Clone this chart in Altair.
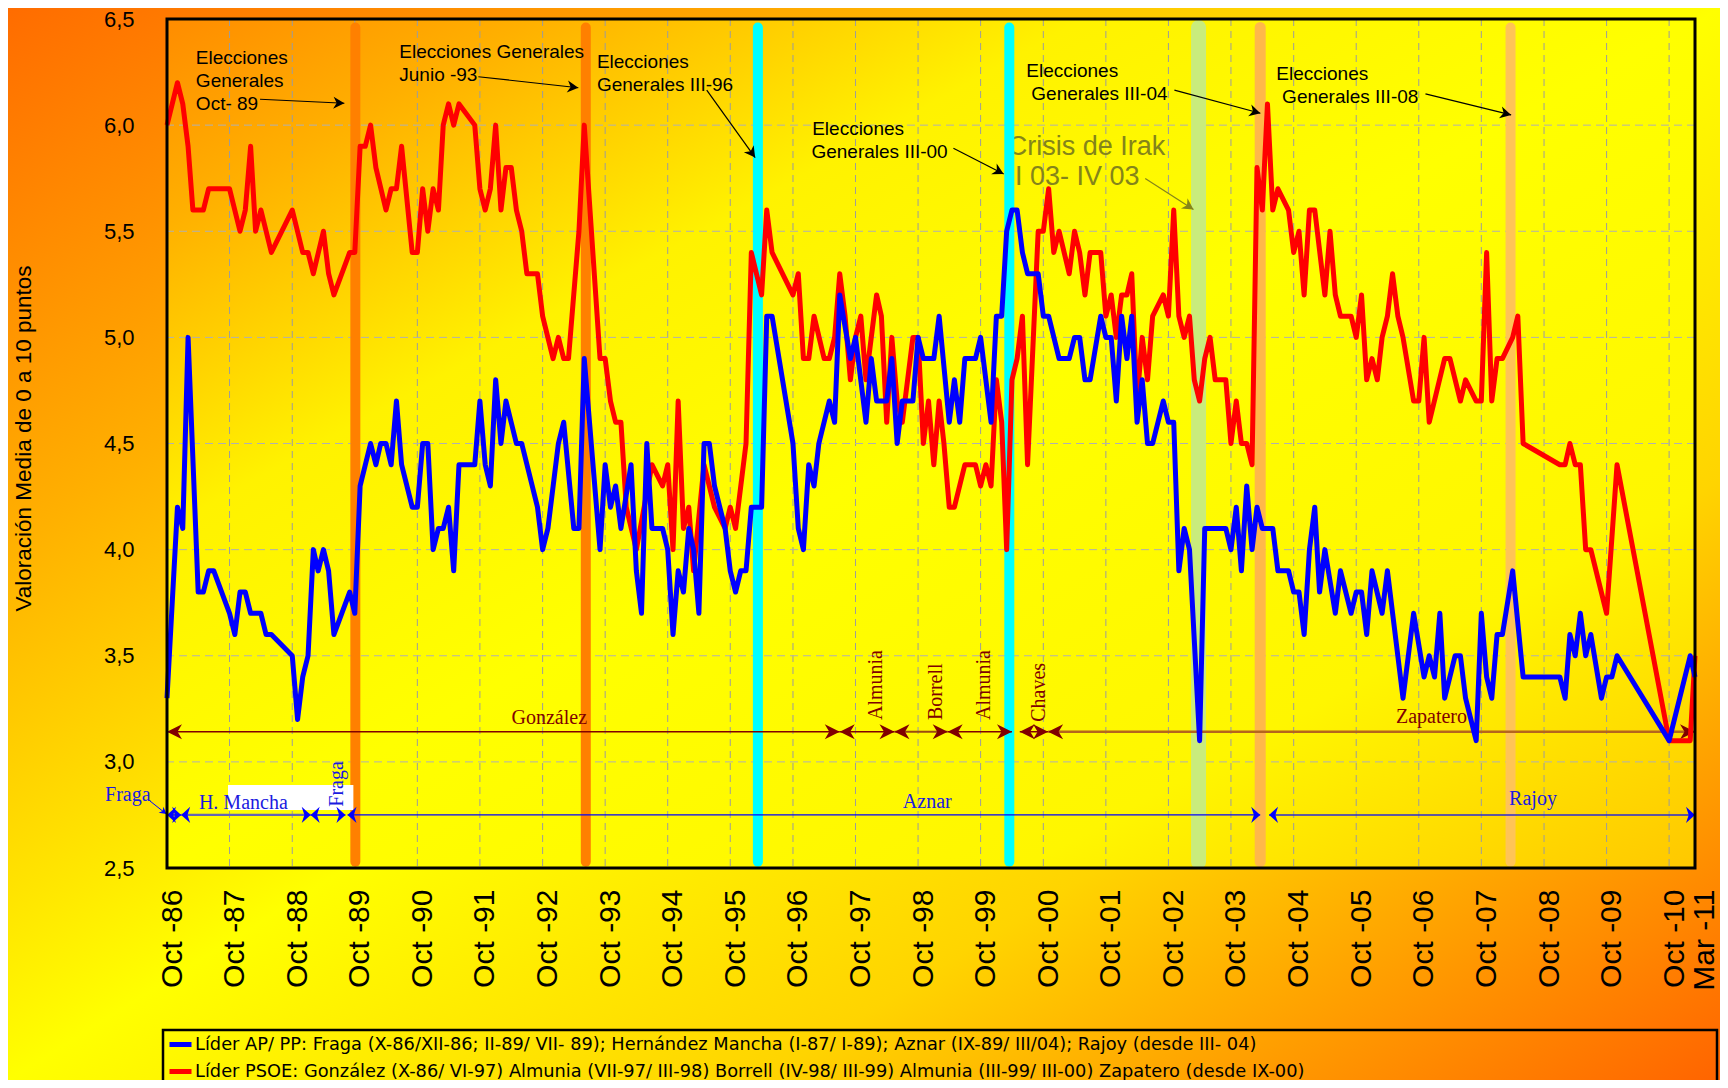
import math
import altair as alt
import pandas as pd

# ---------------------------------------------------------------- data
START = pd.Timestamp(1986, 10, 1)


def mdate(m):
    """month offset from Oct-86 (fractional allowed) -> timestamp"""
    whole = int(math.floor(m))
    frac = m - whole
    d0 = START + pd.DateOffset(months=whole)
    if frac:
        d1 = START + pd.DateOffset(months=whole + 1)
        d0 = d0 + (d1 - d0) * frac
    return d0


PP_LABEL = ("Líder AP/ PP: Fraga (X-86/XII-86; II-89/ VII- 89); Hernández Mancha (I-87/ I-89); "
            "Aznar (IX-89/ III/04); Rajoy (desde III- 04)")
PSOE_LABEL = ("Líder PSOE: González (X-86/ VI-97) Almunia (VII-97/ III-98) Borrell (IV-98/ III-99) "
              "Almunia (III-99/ III-00) Zapatero (desde IX-00)")

# months after Oct-86 and ratings, Líder AP/PP
pp_months = [0, 2, 3, 4, 6, 7, 8, 9, 12, 13, 14, 15, 16, 18, 19, 20, 24, 25, 26, 27, 28, 29, 30, 31, 32,
             35, 36, 37, 39, 40, 41, 42, 43, 44, 45, 47, 48, 49, 50, 51, 52, 53, 54, 55, 56, 59, 60, 61,
             62, 63, 64, 65, 67, 68, 71, 72, 73, 75, 76, 78, 79, 80, 83, 84, 85, 86, 87, 89, 90, 91, 92,
             93, 95, 96, 97, 98, 99, 100, 101, 102, 103, 104, 105, 107, 108, 109, 110, 111, 112, 114,
             115, 116, 120, 121, 122, 123, 124, 125, 127, 128, 129, 131, 132, 134, 135, 136, 138, 139,
             140, 141, 143, 144, 145, 147, 148, 150, 151, 152, 153, 155, 156, 158, 159, 160, 161, 162,
             163, 164, 165, 167, 168, 169, 171, 173, 174, 175, 176, 177, 179, 180, 181, 182, 183, 184,
             185, 186, 187, 188, 189, 191, 192, 193, 194, 195, 196, 198, 199, 203, 204, 205, 206, 207,
             208, 209, 210, 212, 213, 215, 216, 217, 218, 219, 220, 221, 222, 224, 225, 227, 228, 229,
             230, 231, 233, 234, 237, 239, 241, 242, 243, 244, 245, 247, 248, 249, 251, 252, 253, 254,
             255, 256, 258, 260, 267, 268, 269, 270, 271, 272, 273, 275, 276, 277, 278, 288, 292, 293]
pp_values = [3.3, 4.2, 4.1, 5.0, 3.8, 3.8, 3.9, 3.9, 3.7, 3.6, 3.8, 3.8, 3.7, 3.7, 3.6, 3.6, 3.5, 3.2,
             3.4, 3.5, 4.0, 3.9, 4.0, 3.9, 3.6, 3.8, 3.7, 4.3, 4.5, 4.4, 4.5, 4.5, 4.4, 4.7, 4.4, 4.2,
             4.2, 4.5, 4.5, 4.0, 4.1, 4.1, 4.2, 3.9, 4.4, 4.4, 4.7, 4.4, 4.3, 4.8, 4.5, 4.7, 4.5, 4.5,
             4.2, 4.0, 4.1, 4.5, 4.6, 4.1, 4.1, 4.9, 4.0, 4.4, 4.2, 4.3, 4.1, 4.4, 3.9, 3.7, 4.5, 4.1,
             4.1, 4.0, 3.6, 3.9, 3.8, 4.1, 4.0, 3.7, 4.5, 4.5, 4.3, 4.1, 3.9, 3.8, 3.9, 3.9, 4.2, 4.2,
             5.1, 5.1, 4.5, 4.1, 4.0, 4.4, 4.3, 4.5, 4.7, 4.6, 5.2, 4.9, 5.0, 4.6, 4.9, 4.7, 4.7, 4.9,
             4.5, 4.7, 4.7, 5.0, 4.9, 4.9, 5.1, 4.6, 4.8, 4.6, 4.9, 4.9, 5.0, 4.6, 5.1, 5.1, 5.5, 5.6,
             5.6, 5.4, 5.3, 5.3, 5.1, 5.1, 4.9, 4.9, 5.0, 5.0, 4.8, 4.8, 5.1, 5.0, 5.0, 4.7, 5.1, 4.9,
             5.1, 4.6, 4.8, 4.5, 4.5, 4.7, 4.6, 4.6, 3.9, 4.1, 4.0, 3.1, 4.1, 4.1, 4.0, 4.2, 3.9, 4.3,
             4.0, 4.2, 4.1, 4.1, 3.9, 3.9, 3.8, 3.8, 3.6, 4.0, 4.2, 3.8, 4.0, 3.7, 3.9, 3.7, 3.8, 3.8,
             3.6, 3.9, 3.7, 3.9, 3.3, 3.7, 3.4, 3.5, 3.4, 3.7, 3.3, 3.5, 3.5, 3.3, 3.1, 3.7, 3.4, 3.3,
             3.6, 3.6, 3.9, 3.4, 3.4, 3.3, 3.6, 3.5, 3.7, 3.5, 3.6, 3.3, 3.4, 3.4, 3.5, 3.1, 3.5, 3.4]

# months after Oct-86 and ratings, Líder PSOE
psoe_months = [0, 2, 3, 4, 5, 7, 8, 12, 14, 15, 16, 17, 18, 20, 24, 26, 27, 28, 30, 31, 32, 35, 36, 37,
               38, 39, 40, 42, 43, 44, 45, 47, 48, 49, 50, 51, 52, 53, 54, 55, 56, 59, 60, 61, 62, 63,
               64, 65, 66, 67, 68, 69, 71, 72, 74, 75, 76, 77, 79, 80, 83, 84, 85, 86, 87, 88, 90, 93,
               95, 96, 97, 98, 99, 100, 101, 103, 105, 107, 108, 109, 111, 112, 114, 115, 116, 120, 121,
               122, 123, 124, 126, 127, 128, 129, 130, 131, 132, 133, 134, 136, 137, 138, 139, 140, 141,
               143, 144, 145, 146, 147, 148, 149, 150, 151, 153, 155, 156, 157, 158, 159, 160, 161, 162,
               163, 164, 165, 167, 168, 169, 170, 171, 173, 174, 175, 176, 177, 179, 180, 181, 182, 183,
               184, 185, 186, 187, 188, 189, 191, 192, 193, 194, 195, 196, 197, 198, 199, 200, 201, 203,
               204, 205, 206, 207, 208, 209, 210, 211, 212, 213, 215, 216, 217, 218, 219, 220, 222, 223,
               224, 225, 227, 228, 229, 230, 231, 232, 233, 234, 235, 236, 237, 239, 240, 241, 242, 245,
               246, 248, 249, 251, 252, 253, 254, 255, 256, 258, 259, 260, 267, 268, 269, 270, 271, 272,
               273, 276, 278, 288, 292, 293]
psoe_values = [6.0, 6.2, 6.1, 5.9, 5.6, 5.6, 5.7, 5.7, 5.5, 5.6, 5.9, 5.5, 5.6, 5.4, 5.6, 5.4, 5.4, 5.3,
               5.5, 5.3, 5.2, 5.4, 5.4, 5.9, 5.9, 6.0, 5.8, 5.6, 5.7, 5.7, 5.9, 5.4, 5.4, 5.7, 5.5, 5.7,
               5.6, 6.0, 6.1, 6.0, 6.1, 6.0, 5.7, 5.6, 5.7, 6.0, 5.6, 5.8, 5.8, 5.6, 5.5, 5.3, 5.3, 5.1,
               4.9, 5.0, 4.9, 4.9, 5.5, 6.0, 4.9, 4.9, 4.7, 4.6, 4.6, 4.2, 4.0, 4.4, 4.3, 4.4, 4.0, 4.7,
               4.1, 4.2, 3.9, 4.4, 4.2, 4.1, 4.2, 4.1, 4.5, 5.4, 5.2, 5.6, 5.4, 5.2, 5.3, 4.9, 4.9, 5.1,
               4.9, 4.9, 5.0, 5.3, 5.1, 4.8, 5.0, 5.1, 4.8, 5.2, 5.1, 4.6, 5.0, 4.7, 4.6, 5.0, 5.0, 4.5,
               4.7, 4.4, 4.7, 4.5, 4.2, 4.2, 4.4, 4.4, 4.3, 4.4, 4.3, 4.8, 4.6, 4.0, 4.8, 4.9, 5.1, 4.4,
               5.5, 5.5, 5.7, 5.4, 5.5, 5.3, 5.5, 5.4, 5.2, 5.4, 5.4, 5.1, 5.2, 5.0, 5.2, 5.2, 5.3, 4.7,
               5.0, 4.8, 5.1, 5.2, 5.1, 5.6, 5.1, 5.0, 5.1, 4.8, 4.7, 4.9, 5.0, 4.8, 4.8, 4.5, 4.7, 4.5,
               4.5, 4.4, 5.8, 5.6, 6.1, 5.6, 5.7, 5.6, 5.4, 5.5, 5.2, 5.6, 5.6, 5.2, 5.5, 5.2, 5.1, 5.1,
               5.0, 5.2, 4.8, 4.9, 4.8, 5.0, 5.1, 5.3, 5.1, 5.0, 4.7, 4.7, 5.0, 4.6, 4.9, 4.9, 4.7, 4.8,
               4.7, 4.7, 5.4, 4.7, 4.9, 4.9, 5.0, 5.1, 4.5, 4.4, 4.4, 4.5, 4.4, 4.4, 4.0, 4.0, 3.7, 4.4,
               3.1, 3.1, 3.5]

# axis ticks
tick_years = list(range(1986, 2011))
ytick_values = [2.5, 3.0, 3.5, 4.0, 4.5, 5.0, 5.5, 6.0, 6.5]
grid_month_offsets = [12 * k for k in range(1, 25)]
grid_values = [3.0, 3.5, 4.0, 4.5, 5.0, 5.5, 6.0]

# election / crisis bands (month offsets)
band_months = [36.1, 80.3, 113.3, 161.5, 197.8, 209.6, 257.6]
band_colors = ["#FF8000", "#FF8000", "#00FFFF", "#00FFFF", "#C9EC7C", "#FFB84A", "#FFC456"]
band_widths = [10, 10, 10, 10, 15, 11, 10]

# annotation texts
ann_text = ["Elecciones", "Generales", "Oct- 89", "Elecciones Generales", "Junio -93",
            "Elecciones", "Generales III-96", "Elecciones", "Generales III-00",
            "Elecciones", "Generales III-04", "Elecciones", "Generales III-08"]
ann_m = [5.56, 5.56, 5.56, 44.55, 44.55, 82.41, 82.41, 123.65, 123.51, 164.75, 165.71, 212.70, 213.79]
ann_v = [6.287, 6.178, 6.071, 6.315, 6.209, 6.268, 6.162, 5.953, 5.844, 6.225, 6.118, 6.213, 6.106]

arrow_m1 = [17.84, 59.70, 103.51, 150.81, 193.13, 241.27]
arrow_v1 = [6.122, 6.228, 6.165, 5.891, 6.165, 6.147]
arrow_m2 = [34.00, 78.88, 112.77, 160.40, 209.63, 257.71]
arrow_v2 = [6.103, 6.176, 5.847, 5.770, 6.056, 6.048]

irak_text = ["Crisis de Irak", "I 03- IV 03"]
irak_m = [161.2, 162.6]
irak_v = [5.859, 5.718]
irak_arrow = (187.57, 5.749, 196.83, 5.603)

# leaders' timelines
PSOE_ROW = 3.142
psoe_seg_start = [0, 129, 139.5, 149.7, 163.5, 168.9]
psoe_seg_end = [129, 139.5, 149.7, 162.0, 168.9, 293]
psoe_seg_color = ["#800000", "#800000", "#9A4A10", "#800000", "#800000", "#B5651D"]
psoe_seg_width = [1.5, 1.5, 2, 1.5, 1.5, 2.5]

PP_ROW = 2.75
pp_seg_start = [0, 2.7, 27.5, 34.6, 211.3]
pp_seg_end = [2.7, 27.5, 34.2, 209.6, 293]
pp_seg_color = ["#0000FF", "#6464B4", "#0000FF", "#0000FF", "#2A2AD0"]
pp_seg_width = [1.5, 2.2, 1.5, 1.3, 1.5]

lbl_h_text = ["González", "Zapatero", "H. Mancha", "Aznar", "Rajoy", "Fraga"]
lbl_h_m = [73.26, 242.42, 6.14, 145.76, 261.89, -11.89]
lbl_h_v = [3.178, 3.183, 2.777, 2.783, 2.797, 2.816]
lbl_h_align = ["center", "center", "left", "center", "center", "left"]
lbl_h_color = ["#800000", "#800000", "#1A1AE0", "#1A1AE0", "#1A1AE0", "#1A1AE0"]

lbl_r_text = ["Almunia", "Borrell", "Almunia", "Chaves", "Fraga"]
lbl_r_m = [137.13, 148.58, 157.71, 168.39, 33.81]
lbl_r_v = [3.197, 3.197, 3.197, 3.189, 2.789]
lbl_r_color = ["#800000", "#800000", "#800000", "#800000", "#1A1AE0"]

white_box = (11.70, 35.72, 2.891, 2.773)
fraga_leader = (-3.26, 2.816, -0.1, 2.754)

# ---------------------------------------------------------------- layout
W, H = 1528, 849
PAD = {"left": 159, "top": 11, "right": 25, "bottom": 212}
PX_M = W / 293.0
PX_V = H / 4.0


def screen_angle(m1, v1, m2, v2):
    dx = (m2 - m1) * PX_M
    dy = -(v2 - v1) * PX_V
    return math.degrees(math.atan2(dy, dx)) % 360


x_scale = alt.Scale(domain=[alt.DateTime(year=1986, month=10, date=1),
                            alt.DateTime(year=2011, month=3, date=1)])
y_scale = alt.Scale(domain=[2.5, 6.5], nice=False, zero=False)

x_axis = alt.Axis(
    values=[alt.DateTime(year=y, month=10, date=1) for y in tick_years] + [alt.DateTime(year=2011, month=3, date=1)],
    labelExpr="timeFormat(datum.value, '%b -%y')",
    labelAngle=270, labelAlign="right", labelBaseline="middle",
    labelFont="Liberation Sans", labelFontSize=30, labelColor="black",
    labelPadding=21, labelOffset={"condition": {"test": "month(datum.value) == 2", "value": 9}, "value": 5},
    labelFlush=False, labelOverlap=False, labelBound=False,
    ticks=False, domain=False, grid=False, title=None, zindex=1)

y_axis = alt.Axis(
    values=ytick_values,
    labelExpr="replace(format(datum.value, '.1f'), '.', ',')",
    labelFont="Liberation Sans", labelFontSize=22, labelColor="black",
    labelPadding=33, labelFlush=False, labelOverlap=False,
    ticks=False, domain=False, grid=False,
    title="Valoración Media de 0 a 10 puntos", titleFont="Liberation Sans", titleFontSize=22.5,
    titleFontWeight="normal", titleColor="black", titleX=-137, titleY=419,
    titleBaseline="alphabetic", titleAlign="center", zindex=1)

X = alt.X("date:T", scale=x_scale, axis=x_axis)
Y = alt.Y("value:Q", scale=y_scale, axis=y_axis)

one = pd.DataFrame({"k": [0]})

outer_grad = alt.LinearGradient(
    gradient="linear", x1=0, y1=0, x2=1, y2=1,
    stops=[alt.GradientStop(offset=0, color="#FF6C00"),
           alt.GradientStop(offset=0.25, color="#FFB000"),
           alt.GradientStop(offset=0.5, color="#FFFF00"),
           alt.GradientStop(offset=0.72, color="#FFD400"),
           alt.GradientStop(offset=1, color="#FF6400")])
plot_grad = alt.LinearGradient(
    gradient="linear", x1=0, y1=0, x2=1, y2=1,
    stops=[alt.GradientStop(offset=0, color="#FF8C00"),
           alt.GradientStop(offset=0.12, color="#FFB000"),
           alt.GradientStop(offset=0.3, color="#FFF200"),
           alt.GradientStop(offset=0.5, color="#FFFF00"),
           alt.GradientStop(offset=0.78, color="#FFF600"),
           alt.GradientStop(offset=1, color="#FFC800")])

outer_bg = alt.Chart(one).mark_rect(fill=outer_grad).encode(
    x=alt.value(-PAD["left"]), x2=alt.value(W + PAD["right"]),
    y=alt.value(-PAD["top"]), y2=alt.value(H + PAD["bottom"]))
plot_bg = alt.Chart(one).mark_rect(fill=plot_grad).encode(
    x=alt.value(0), x2=alt.value(W), y=alt.value(0), y2=alt.value(H))

grid_v = alt.Chart(pd.DataFrame({"date": [mdate(m) for m in grid_month_offsets]})).mark_rule(
    stroke="#9C9C9C", strokeWidth=1, strokeDash=[7, 5]).encode(x=X)
grid_h = alt.Chart(pd.DataFrame({"value": grid_values})).mark_rule(
    stroke="#B0B0B0", strokeWidth=1, strokeDash=[8, 5]).encode(y=Y)

irak_df = pd.DataFrame({"date": [mdate(m) for m in irak_m], "value": irak_v, "t": irak_text})
irak_txt = alt.Chart(irak_df).mark_text(
    align="left", baseline="alphabetic", font="Liberation Sans", fontSize=27, color="#84841A").encode(
    x=X, y=Y, text="t:N")

bands_df = pd.DataFrame({"date": [mdate(m) for m in band_months], "value": 6.46, "value2": 2.53,
                         "col": band_colors, "w": band_widths})
bands = alt.Chart(bands_df).mark_rule(strokeCap="round").encode(
    x=X, y=Y, y2="value2:Q", stroke=alt.Stroke("col:N", scale=None),
    strokeWidth=alt.StrokeWidth("w:Q", scale=None))

wb = pd.DataFrame({"date": [mdate(white_box[0])], "date2": [mdate(white_box[1])],
                   "value": [white_box[2]], "value2": [white_box[3]]})
white = alt.Chart(wb).mark_rect(color="white").encode(x=X, x2="date2:T", y=Y, y2="value2:Q")

# timelines
seg_rows = []
head_rows_r, head_rows_b = [], []
for s, e, c, w in zip(psoe_seg_start, psoe_seg_end, psoe_seg_color, psoe_seg_width):
    seg_rows.append({"date": mdate(s), "date2": mdate(e), "value": PSOE_ROW, "col": c, "w": w})
    head_rows_r.append({"date": mdate(s), "value": PSOE_ROW, "ang": 180})
    head_rows_r.append({"date": mdate(e), "value": PSOE_ROW, "ang": 0})
for s, e, c, w in zip(pp_seg_start, pp_seg_end, pp_seg_color, pp_seg_width):
    seg_rows.append({"date": mdate(s), "date2": mdate(e), "value": PP_ROW, "col": c, "w": w})
    head_rows_b.append({"date": mdate(s), "value": PP_ROW, "ang": 180})
    head_rows_b.append({"date": mdate(e), "value": PP_ROW, "ang": 0})
segs = alt.Chart(pd.DataFrame(seg_rows)).mark_rule().encode(
    x=X, x2="date2:T", y=Y, stroke=alt.Stroke("col:N", scale=None),
    strokeWidth=alt.StrokeWidth("w:Q", scale=None))

RED_HEAD = "M0,0 L-2,-1 L-1.4,0 L-2,1 Z"
BLUE_HEAD = "M0,0 L-2,-1.8 L-1.4,0 L-2,1.8 Z"
ANN_HEAD = "M0,0 L-2,-1.1 L-1.4,0 L-2,1.1 Z"

heads_r = alt.Chart(pd.DataFrame(head_rows_r)).mark_point(
    shape=RED_HEAD, filled=True, size=225, color="#800000", opacity=1, strokeWidth=0).encode(
    x=X, y=Y, angle=alt.Angle("ang:Q", scale=None))
heads_b = alt.Chart(pd.DataFrame(head_rows_b)).mark_point(
    shape=BLUE_HEAD, filled=True, size=81, color="#0000FF", opacity=1, strokeWidth=0).encode(
    x=X, y=Y, angle=alt.Angle("ang:Q", scale=None))

lbl_h_df = pd.DataFrame({"date": [mdate(m) for m in lbl_h_m], "value": lbl_h_v, "t": lbl_h_text,
                         "al": lbl_h_align, "col": lbl_h_color})
lbl_hc = alt.Chart(lbl_h_df[lbl_h_df.al == "center"]).mark_text(
    align="center", baseline="alphabetic", font="Liberation Serif", fontSize=20).encode(
    x=X, y=Y, text="t:N", fill=alt.Fill("col:N", scale=None))
lbl_hl = alt.Chart(lbl_h_df[lbl_h_df.al == "left"]).mark_text(
    align="left", baseline="alphabetic", font="Liberation Serif", fontSize=20).encode(
    x=X, y=Y, text="t:N", fill=alt.Fill("col:N", scale=None))
lbl_r = alt.Chart(pd.DataFrame({"date": [mdate(m) for m in lbl_r_m], "value": lbl_r_v, "t": lbl_r_text,
                                "col": lbl_r_color})).mark_text(
    align="left", baseline="alphabetic", angle=270, font="Liberation Serif", fontSize=20).encode(
    x=X, y=Y, text="t:N", fill=alt.Fill("col:N", scale=None))

fl_df = pd.DataFrame({"date": [mdate(fraga_leader[0])], "date2": [mdate(fraga_leader[2])],
                      "value": [fraga_leader[1]], "value2": [fraga_leader[3]],
                      "ang": [screen_angle(*fraga_leader)]})
fl_line = alt.Chart(fl_df).mark_rule(color="#0000FF", strokeWidth=1).encode(
    x=X, x2="date2:T", y=Y, y2="value2:Q")
fl_head = alt.Chart(fl_df).mark_point(shape=ANN_HEAD, filled=True, size=49, color="#0000FF",
                                      opacity=1, strokeWidth=0).encode(
    x="date2:T", y="value2:Q", angle=alt.Angle("ang:Q", scale=None))

# annotations
ann_df = pd.DataFrame({"date": [mdate(m) for m in ann_m], "value": ann_v, "t": ann_text})
ann_txt = alt.Chart(ann_df).mark_text(
    align="left", baseline="alphabetic", font="Liberation Sans", fontSize=19, color="black").encode(
    x=X, y=Y, text="t:N")
arr_df = pd.DataFrame({"date": [mdate(m) for m in arrow_m1], "value": arrow_v1,
                       "date2": [mdate(m) for m in arrow_m2], "value2": arrow_v2,
                       "ang": [screen_angle(a, b, c, d) for a, b, c, d in
                               zip(arrow_m1, arrow_v1, arrow_m2, arrow_v2)]})
arr_line = alt.Chart(arr_df).mark_rule(color="black", strokeWidth=1.2).encode(
    x=X, x2="date2:T", y=Y, y2="value2:Q")
arr_head = alt.Chart(arr_df).mark_point(shape=ANN_HEAD, filled=True, size=121, color="black",
                                        opacity=1, strokeWidth=0).encode(
    x="date2:T", y="value2:Q", angle=alt.Angle("ang:Q", scale=None))
ia_df = pd.DataFrame({"date": [mdate(irak_arrow[0])], "value": [irak_arrow[1]],
                      "date2": [mdate(irak_arrow[2])], "value2": [irak_arrow[3]],
                      "ang": [screen_angle(*irak_arrow)]})
ia_line = alt.Chart(ia_df).mark_rule(color="#84841A", strokeWidth=1.2).encode(
    x=X, x2="date2:T", y=Y, y2="value2:Q")
ia_head = alt.Chart(ia_df).mark_point(shape=ANN_HEAD, filled=True, size=121, color="#84841A",
                                      opacity=1, strokeWidth=0).encode(
    x="date2:T", y="value2:Q", angle=alt.Angle("ang:Q", scale=None))

legend_box = alt.Chart(one).mark_rect(fillOpacity=0, stroke="black", strokeWidth=2.5).encode(
    x=alt.value(-4), x2=alt.value(1550), y=alt.value(1011), y2=alt.value(H + 250))

# data lines
color_scale = alt.Scale(domain=[PP_LABEL, PSOE_LABEL], range=["#0000FF", "#FF0000"])
legend = alt.Legend(orient="none", legendX=0, legendY=1012, direction="vertical", title=None,
                    symbolType="stroke", symbolStrokeWidth=5, symbolSize=484,
                    labelFont="DejaVu Sans", labelFontSize=17.8, labelColor="black",
                    labelLimit=3000, labelOffset=1, rowPadding=3, padding=0, zindex=1)
psoe_df = pd.DataFrame({"date": [mdate(m) for m in psoe_months], "value": psoe_values, "serie": PSOE_LABEL})
pp_df = pd.DataFrame({"date": [mdate(m) for m in pp_months], "value": pp_values, "serie": PP_LABEL})
psoe_line = alt.Chart(psoe_df).mark_line(strokeWidth=5, strokeJoin="round").encode(
    x=X, y=Y, color=alt.Color("serie:N", scale=color_scale, legend=legend))
pp_line = alt.Chart(pp_df).mark_line(strokeWidth=5, strokeJoin="round").encode(
    x=X, y=Y, color=alt.Color("serie:N", scale=color_scale, legend=legend))

frame = alt.Chart(one).mark_rect(fillOpacity=0, stroke="black", strokeWidth=3).encode(
    x=alt.value(0), x2=alt.value(W), y=alt.value(0), y2=alt.value(H))

chart = alt.layer(
    outer_bg, plot_bg, grid_v, grid_h, irak_txt, bands, white, segs, heads_r, heads_b,
    lbl_hc, lbl_hl, lbl_r, fl_line, fl_head, ann_txt, arr_line, arr_head, ia_line, ia_head,
    legend_box, psoe_line, pp_line, frame
).properties(
    width=W, height=H, autosize=alt.AutoSizeParams(type="none"), padding=PAD, background="#FFE000"
).configure_view(stroke=None)

chart.save("out.html", embed_options={"renderer": "svg", "actions": False})
